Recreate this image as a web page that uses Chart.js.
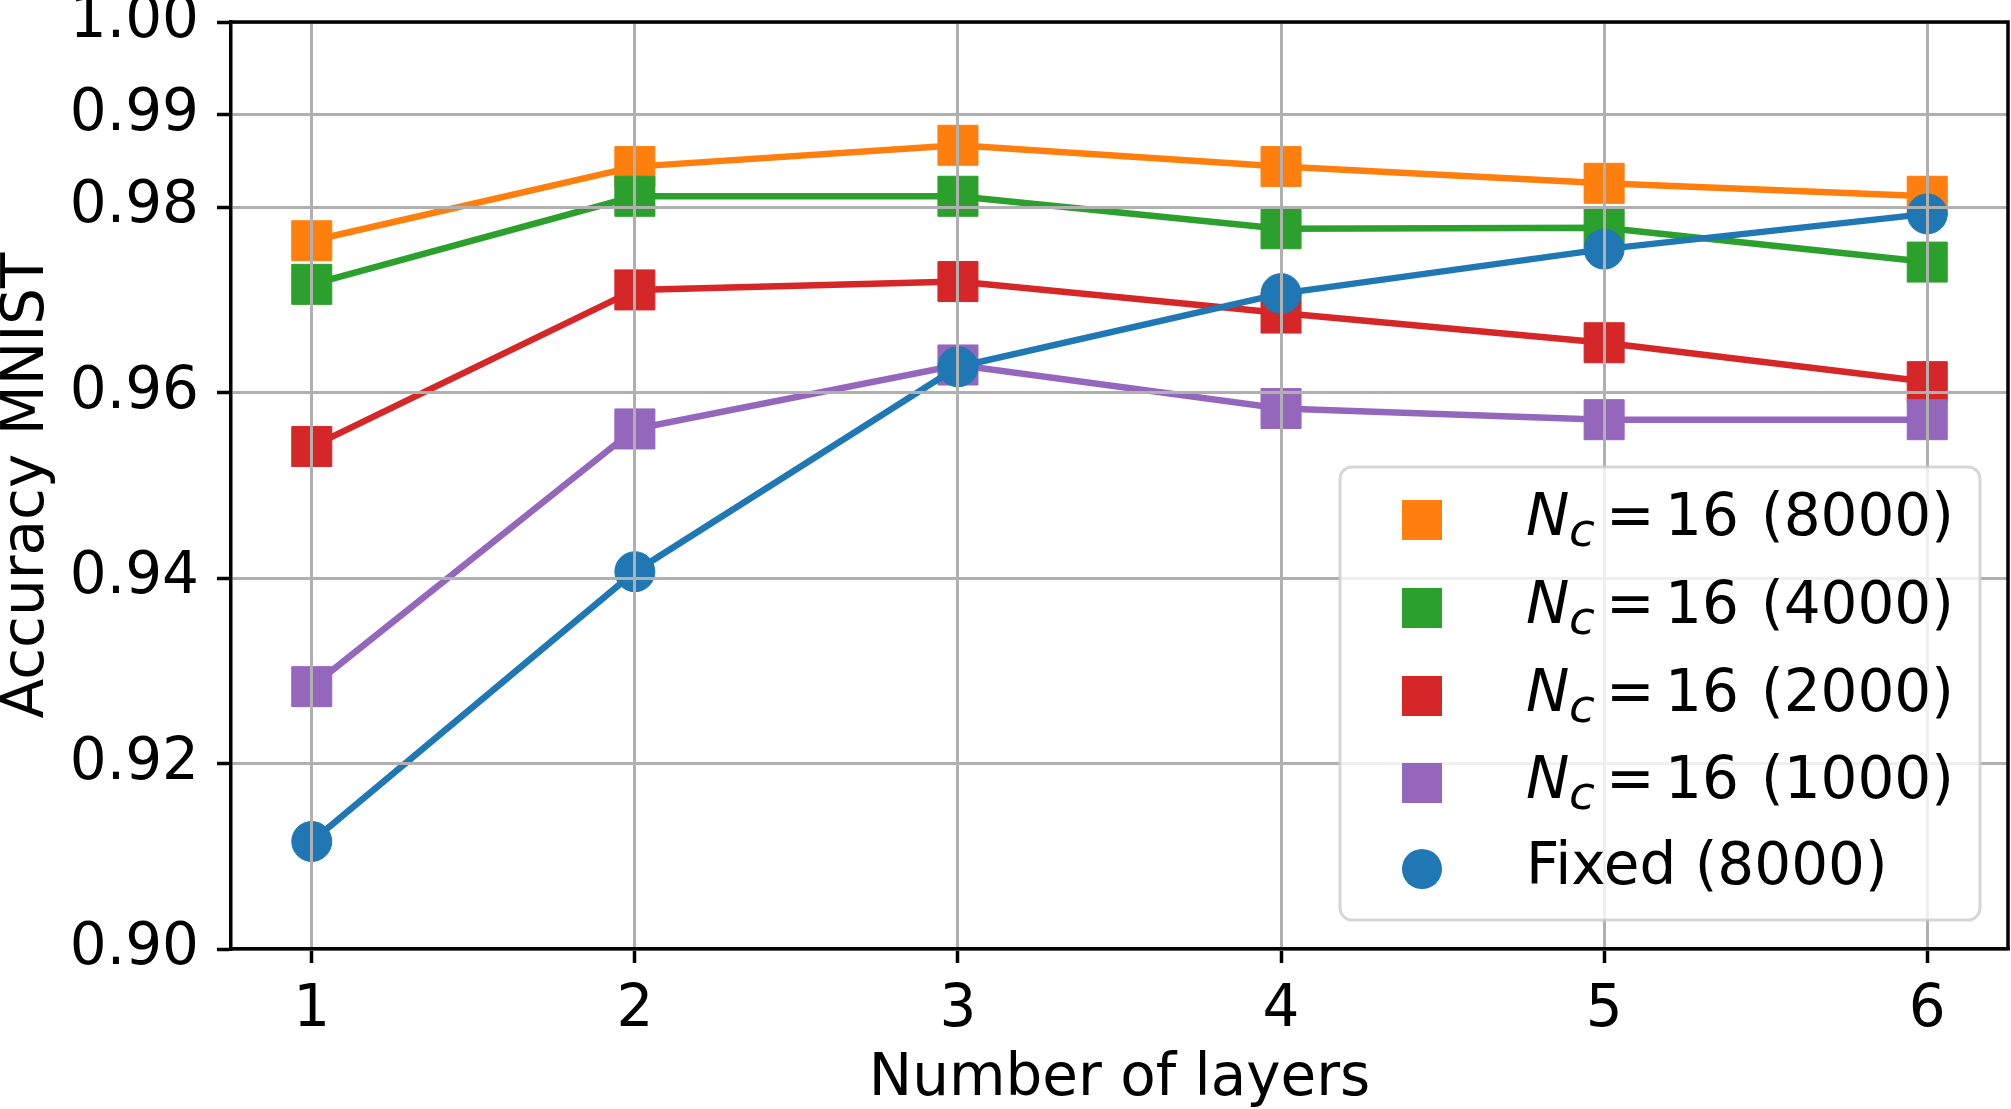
<!DOCTYPE html>
<html>
<head>
<meta charset="utf-8">
<script src="https://cdn.jsdelivr.net/npm/chart.js@4.4.1/dist/chart.umd.min.js"></script>
<style>
  html, body { margin: 0; padding: 0; background: #fff; }
  #chart { display: block; }
</style>
</head>
<body>
<canvas id="chart" width="2011" height="1109"></canvas>
<script>
// Accuracy on MNIST vs. number of layers
var layers = [1, 2, 3, 4, 5, 6];
var acc8000 = [0.9764, 0.9844, 0.9867, 0.9844, 0.9826, 0.9812];
var acc4000 = [0.9717, 0.9812, 0.9812, 0.9777, 0.9778, 0.9741];
var acc2000 = [0.9542, 0.9711, 0.9720, 0.9686, 0.9654, 0.9612];
var acc1000 = [0.9283, 0.9561, 0.9630, 0.9583, 0.9571, 0.9571];
var accFixed = [0.9116, 0.9407, 0.9628, 0.9707, 0.9755, 0.9793];
var yTicks = [0.90, 0.92, 0.94, 0.96, 0.98, 0.99, 1.00];

var FONT = 'DejaVu Sans';
var FS = 58;

function toPoints(values) {
  return layers.map(function(x, i) { return { x: x, y: values[i] }; });
}

function makeSet(label, values, color, style, order) {
  return {
    label: label,
    data: toPoints(values),
    borderColor: color,
    backgroundColor: color,
    borderWidth: 6.5,
    pointStyle: style,
    pointRadius: style === 'rect' ? 28.3 : 20,
    pointBorderWidth: 1,
    pointBorderColor: color,
    pointBackgroundColor: color,
    order: order,
    tension: 0
  };
}

var datasets = [
  makeSet('8000', acc8000, '#ff7f0e', 'rect', 4),
  makeSet('4000', acc4000, '#2ca02c', 'rect', 3),
  makeSet('2000', acc2000, '#d62728', 'rect', 2),
  makeSet('1000', acc1000, '#9467bd', 'rect', 1),
  makeSet('Fixed (8000)', accFixed, '#1f77b4', 'circle', 0)
];

// no extra room for tick labels overflowing the plot area
function noPadding(scale) {
  scale.paddingLeft = 0;
  scale.paddingRight = 0;
  scale.paddingTop = 0;
  scale.paddingBottom = 0;
}

// frame, axis titles and the legend (mathtext style labels)
var decorPlugin = {
  id: 'decor',
  afterDraw: function(chart) {
    var ctx = chart.ctx;
    var a = chart.chartArea;
    ctx.save();

    // top and right spines
    ctx.strokeStyle = '#000';
    ctx.lineWidth = 3.5;
    ctx.beginPath();
    ctx.moveTo(a.left, a.top);
    ctx.lineTo(a.right, a.top);
    ctx.lineTo(a.right, a.bottom);
    ctx.stroke();

    // axis titles
    ctx.fillStyle = '#000';
    ctx.font = FS + 'px "' + FONT + '"';
    ctx.textAlign = 'center';
    ctx.textBaseline = 'alphabetic';
    ctx.fillText('Number of layers', (a.left + a.right) / 2, 1095);

    ctx.save();
    ctx.translate(43, (a.top + a.bottom) / 2);
    ctx.rotate(-Math.PI / 2);
    ctx.fillText('Accuracy MNIST', 0, 0);
    ctx.restore();

    // legend box
    var bx = 1340, by = 467, bw = 640, bh = 453, r = 12;
    ctx.beginPath();
    ctx.moveTo(bx + r, by);
    ctx.arcTo(bx + bw, by, bx + bw, by + bh, r);
    ctx.arcTo(bx + bw, by + bh, bx, by + bh, r);
    ctx.arcTo(bx, by + bh, bx, by, r);
    ctx.arcTo(bx, by, bx + bw, by, r);
    ctx.closePath();
    ctx.fillStyle = 'rgba(255,255,255,0.8)';
    ctx.fill();
    ctx.strokeStyle = 'rgba(204,204,204,0.8)';
    ctx.lineWidth = 3;
    ctx.stroke();

    var rowY = [520, 608, 696, 783, 869];
    var mx = 1422, tx = 1526;
    ctx.textAlign = 'left';
    datasets.forEach(function(ds, i) {
      var cy = rowY[i];
      ctx.fillStyle = ds.borderColor;
      if (ds.pointStyle === 'rect') {
        ctx.fillRect(mx - 20, cy - 20, 40, 40);
      } else {
        ctx.beginPath();
        ctx.arc(mx, cy, 20, 0, Math.PI * 2);
        ctx.fill();
      }
      ctx.fillStyle = '#000';
      var base = cy + 15;
      if (ds.pointStyle === 'rect') {
        ctx.font = 'italic ' + FS + 'px "' + FONT + '"';
        ctx.fillText('N', tx, base);
        ctx.font = 'italic 47px "' + FONT + '"';
        ctx.fillText('c', tx + 43, base + 11);
        ctx.font = FS + 'px "' + FONT + '"';
        ctx.fillText('=', tx + 80, base);
        ctx.fillText('16', tx + 139, base);
        ctx.fillText('(' + ds.label + ')', tx + 235, base);
      } else {
        ctx.font = FS + 'px "' + FONT + '"';
        ctx.fillText(ds.label, tx, base);
      }
    });

    ctx.restore();
  }
};

var tickFont = { family: FONT, size: FS };

new Chart(document.getElementById('chart'), {
  type: 'line',
  data: { datasets: datasets },
  options: {
    responsive: false,
    animation: false,
    devicePixelRatio: 1,
    layout: { autoPadding: false, padding: { top: 22, right: 3, left: 0, bottom: 0 } },
    plugins: { legend: { display: false }, tooltip: { enabled: false } },
    elements: { line: { tension: 0 } },
    scales: {
      x: {
        type: 'linear',
        min: 0.75,
        max: 6.25,
        afterBuildTicks: function(scale) {
          scale.ticks = layers.map(function(v) { return { value: v }; });
        },
        afterFit: function(scale) { scale.height = 160; noPadding(scale); },
        ticks: {
          font: tickFont,
          color: '#000',
          padding: 13,
          maxRotation: 0,
          autoSkip: false,
          z: 2,
          callback: function(v) { return String(v); }
        },
        grid: {
          color: '#b0b0b0',
          lineWidth: 3,
          tickColor: '#000',
          tickLength: 14,
          tickWidth: 3.5,
          z: 1
        },
        border: { display: true, color: '#000', width: 3.5, z: 2 }
      },
      y: {
        type: 'linear',
        min: 0.90,
        max: 1.00,
        afterBuildTicks: function(scale) {
          scale.ticks = yTicks.map(function(v) { return { value: v }; });
        },
        afterFit: function(scale) { scale.width = 231; noPadding(scale); },
        ticks: {
          font: tickFont,
          color: '#000',
          padding: 18,
          autoSkip: false,
          z: 2,
          callback: function(v) { return v.toFixed(2); }
        },
        grid: {
          color: '#b0b0b0',
          lineWidth: 3,
          tickColor: '#000',
          tickLength: 14,
          tickWidth: 3.5,
          z: 1
        },
        border: { display: true, color: '#000', width: 3.5, z: 2 }
      }
    }
  },
  plugins: [decorPlugin]
});
</script>
</body>
</html>
